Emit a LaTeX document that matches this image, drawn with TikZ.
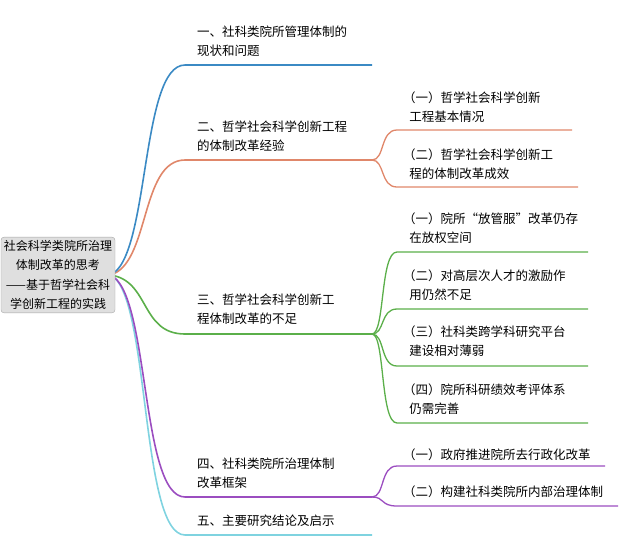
\documentclass[tikz,border=0pt]{standalone}
\usepackage{fontspec}
\newfontfamily\cjk{Noto Sans CJK SC}
\begin{document}
\begin{tikzpicture}[x=1pt,y=-1pt,
  lab/.style={anchor=west,align=left,font=\cjk\fontsize{12.5}{19}\selectfont,inner sep=0pt},
  br/.style={line width=1.6pt},
  sb/.style={line width=1.3pt}]
\useasboundingbox (0,0) rectangle (640,558);
\definecolor{cb}{HTML}{3B8AC4}\definecolor{cs}{HTML}{E0876A}
\definecolor{cg}{HTML}{5BAF4A}\definecolor{cp}{HTML}{9B4DC0}\definecolor{cc}{HTML}{7FD3E0}
\coordinate (r) at (110,275);
\coordinate (b1) at (185,65);\coordinate (e1) at (372,65);
\coordinate (b2) at (185,160);\coordinate (e2) at (372,160);
\coordinate (b3) at (185,334);\coordinate (e3) at (372,334);
\coordinate (b4) at (185,497);\coordinate (e4) at (372,497);
\coordinate (b5) at (185,535);\coordinate (e5) at (372,535);
\draw[br,cc] (r) .. controls (150,290) and (140,535) .. (b5) -- (e5);
\draw[br,cp] (r) .. controls (150,290) and (140,497) .. (b4) -- (e4);
\draw[br,cg] (r) .. controls (150,280) and (140,334) .. (b3) -- (e3);
\draw[br,cs] (r) .. controls (150,265) and (140,160) .. (b2) -- (e2);
\draw[br,cb] (r) .. controls (150,260) and (140,65) .. (b1) -- (e1);
\foreach \y/\e in {130/572,187/578}{\draw[sb,cs] (e2) .. controls (385,160) and (380,\y) .. (397,\y) -- (\e,\y);}
\foreach \y in {252,309,366,423}{\draw[sb,cg] (e3) .. controls (385,334) and (380,\y) .. (397,\y) -- (588,\y);}
\foreach \y/\e in {466/605,506/618}{\draw[sb,cp] (e4) .. controls (385,497) and (380,\y) .. (397,\y) -- (\e,\y);}
\node[draw=gray!70,fill=gray!25,rounded corners=3pt,align=center,inner sep=3pt,
  font=\cjk\fontsize{12}{19.5}\selectfont] (root) at (58,275)
  {社会科学类院所治理\\体制改革的思考\\——基于哲学社会科\\学创新工程的实践};
\node[lab] (t1) at (197,41) {一、社科类院所管理体制的\\现状和问题};
\node[lab] (t2) at (197,136) {二、哲学社会科学创新工程\\的体制改革经验};
\node[lab] (t3) at (197,309) {三、哲学社会科学创新工\\程体制改革的不足};
\node[lab] (t4) at (197,473) {四、社科类院所治理体制\\改革框架};
\node[lab] (t5) at (197,521) {五、主要研究结论及启示};
\node[lab] (s21) at (403,107) {（一）哲学社会科学创新\\\hspace*{0.5em}工程基本情况};
\node[lab] (s22) at (403,164) {（二）哲学社会科学创新工\\\hspace*{0.5em}程的体制改革成效};
\node[lab] (s31) at (403,228) {（一）院所“放管服”改革仍存\\\hspace*{0.5em}在放权空间};
\node[lab] (s32) at (403,285) {（二）对高层次人才的激励作\\\hspace*{0.5em}用仍然不足};
\node[lab] (s33) at (403,341) {（三）社科类跨学科研究平台\\\hspace*{0.5em}建设相对薄弱};
\node[lab] (s34) at (403,399) {（四）院所科研绩效考评体系\\\hspace*{0.5em}仍需完善};
\node[lab] (s41) at (403,455) {（一）政府推进院所去行政化改革};
\node[lab] (s42) at (403,492) {（二）构建社科类院所内部治理体制};
\end{tikzpicture}
\end{document}
